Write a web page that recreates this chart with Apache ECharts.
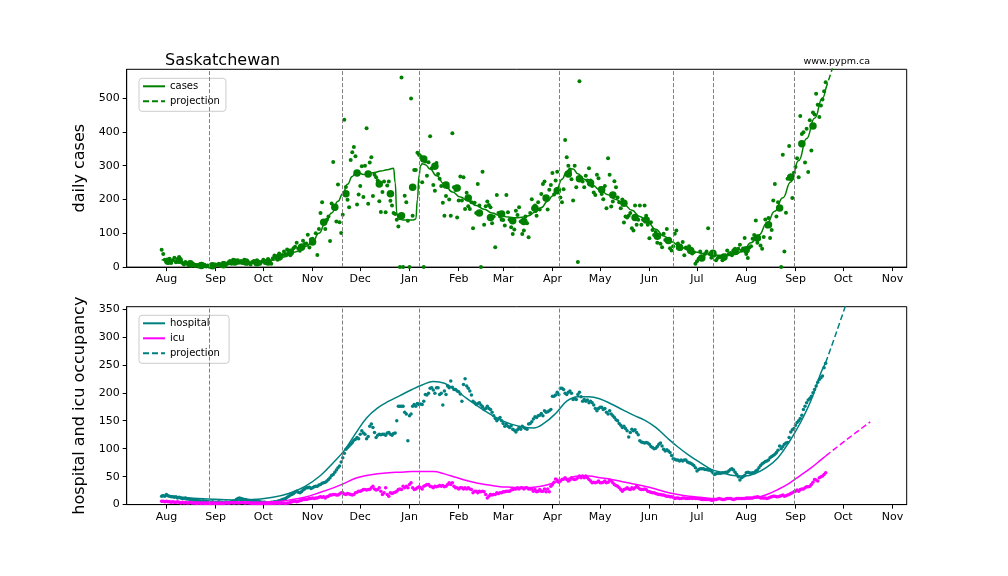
<!DOCTYPE html>
<html>
<head>
<meta charset="utf-8">
<script src="https://cdn.jsdelivr.net/npm/echarts@6/dist/echarts.min.js"></script>
<style>
  html, body { margin: 0; padding: 0; background: #fff; }
  #chart { width: 1008px; height: 576px; }
</style>
</head>
<body>
<div id="chart"></div>
<script>
// day 0 = 1 Aug 2020, every day offset below counts from it
const DAY0 = Date.UTC(2020, 7, 1);
const MONTHS = ['Jan', 'Feb', 'Mar', 'Apr', 'May', 'Jun', 'Jul', 'Aug', 'Sep', 'Oct', 'Nov', 'Dec'];

const axisFirstDay = -25;   // 7 Jul 2020
const axisLastDay = 466;    // 10 Nov 2021
const dailyStartDay = -3;   // 29 Jul 2020
const weeklyStartDay = 1;   // 2 Aug 2020, one dot every 7 days

// vertical dashed markers
const markerDays = [27, 111, 159, 247, 319, 344, 395];

// daily reported cases
const casesDaily = [
  51, 39, 22, 15, 18, 25, 12,
  20, 28, 14, 22, 30, 18, 12,
  8, 15, 10, 6, 12, 4, 9,
  3, 6, 2, 8, 5, 3, 7,
  2, 5, 1, 6, 4, 3, 8,
  6, 10, 3, 8, 12, 5, 9,
  14, 18, 10, 22, 15, 12, 20,
  14, 18, 12, 22, 16, 10, 13,
  8, 15, 18, 12, 20, 14, 10,
  16, 22, 12, 18, 24, 14, 10,
  26, 34, 28, 22, 40, 30, 36,
  46, 38, 52, 42, 35, 48, 56,
  60, 72, 55, 48, 64, 78, 68,
  70, 96, 58, 82, 84, 75, 100,
  36, 113, 160, 192, 130, 113, 140,
  150, 77, 188, 311, 172, 135, 244,
  133, 101, 155, 436, 237, 199, 177,
  317, 340, 355, 328, 185, 215, 240,
  298, 207, 300, 411, 187, 309, 325,
  210, 273, 266, 256, 195, 163, 222,
  253, 162, 241, 253, 196, 182, 160,
  157, 140, 120, 0, 561, 0, 211,
  192, 137, 0, 499, 152, 287, 287,
  338, 332, 328, 251, 0, 312, 270,
  310, 387, 292, 243, 226, 308, 275,
  261, 240, 190, 152, 210, 236, 200,
  152, 396, 236, 228, 147, 197, 268,
  197, 266, 172, 220, 180, 172, 192,
  115, 190, 160, 246, 182, 0, 282,
  125, 180, 194, 184, 177, 130, 150,
  59, 213, 160, 150, 140, 139, 123,
  213, 162, 140, 118, 98, 111, 167,
  154, 177, 135, 98, 108, 150, 130,
  88, 160, 201, 174, 182, 152, 192,
  170, 216, 246, 253, 200, 170, 229,
  243, 278, 215, 256, 282, 231, 206,
  192, 230, 376, 325, 300, 285, 260,
  197, 300, 236, 15, 550, 263, 253,
  236, 270, 256, 292, 256, 240, 221,
  213, 273, 263, 233, 216, 201, 240,
  174, 322, 273, 179, 194, 254, 236,
  206, 192, 174, 200, 132, 150, 147,
  152, 160, 115, 108, 182, 125, 140,
  182, 125, 140, 182, 152, 125, 85,
  133, 110, 95, 104, 72, 88, 69,
  59, 99, 80, 113, 74, 56, 49,
  62, 99, 108, 70, 60, 54, 74,
  35, 58, 54, 62, 49, 40, 44,
  10, 17, 25, 46, 30, 30, 39,
  46, 115, 39, 28, 32, 35, 20,
  27, 30, 30, 20, 25, 34, 49,
  39, 42, 35, 49, 54, 44, 54,
  66, 48, 55, 86, 39, 27, 58,
  62, 84, 95, 138, 72, 84, 64,
  54, 89, 141, 120, 145, 86, 110,
  197, 246, 150, 192, 172, 0, 332,
  46, 161, 261, 358, 271, 204, 279,
  296, 322, 266, 447, 394, 399, 309,
  409, 281, 434, 345, 457, 451, 513,
  480, 444, 478, 496, 520, 547
];

// weekly averages (big dots)
const casesWeekly = [
  17, 20, 10, 5, 4, 7, 15, 15, 13, 15, 30, 44, 59, 74, 133, 177, 217, 278, 275, 246,
  217, 152, 236, 320, 298, 243, 234, 204, 160, 147, 157, 137, 135, 174, 204, 226, 275, 261, 249, 229,
  213, 189, 147, 139, 91, 79, 59, 49, 27, 41, 30, 46, 51, 86, 125, 175, 266, 365, 417
];

// model fit for cases
const caseModelDays = [-3, 4, 11, 18, 25, 32, 39, 46, 53, 60, 67, 74, 81, 88, 92, 96, 100, 104, 108, 111,
  114, 117, 119, 121, 124, 127, 131, 135, 139, 143, 144, 145, 146, 150, 155, 157, 158, 159, 160, 161,
  163, 166, 170, 175, 180, 185, 190, 195, 200, 205, 210, 215, 220, 225, 228, 232, 236, 240, 243, 246,
  249, 252, 254, 256, 259, 263, 268, 273, 278, 283, 288, 293, 298, 303, 308, 313, 318, 323, 328, 333,
  338, 343, 348, 353, 358, 363, 368, 373, 378, 383, 388, 393, 398, 403, 408, 413, 415];
const caseModelVals = [22, 19, 14, 10, 7, 7, 8, 10, 12, 15, 20, 30, 45, 62, 75, 100, 130, 160, 195, 217,
  245, 268, 278, 279, 274, 276, 280, 284, 288, 292, 250, 160, 142, 139, 139, 142, 200, 270, 300, 306,
  303, 290, 270, 245, 222, 207, 196, 182, 171, 160, 152, 148, 146, 148, 152, 162, 176, 195, 210, 235,
  260, 283, 292, 290, 276, 260, 243, 228, 214, 200, 185, 168, 150, 132, 112, 92, 75, 62, 52, 45,
  40, 37, 35, 34, 38, 48, 72, 95, 130, 165, 205, 252, 315, 380, 440, 500, 527];
const caseProjDays = [415, 418, 422];
const caseProjVals = [527, 570, 630];

// hospital and icu occupancy, daily
const hospitalDaily = [
  15, 16, 15, 18, 16, 15, 14,
  14, 13, 14, 12, 13, 12, 11,
  11, 12, 10, 10, 9, 9, 8,
  8, 8, 7, 7, 6, 7, 6,
  6, 5, 5, 4, 5, 4, 4,
  4, 5, 4, 4, 3, 4, 4,
  3, 4, 5, 6, 7, 9, 11,
  12, 11, 10, 9, 9, 8, 8,
  7, 7, 6, 6, 5, 5, 5,
  4, 4, 4, 3, 3, 3, 4,
  4, 5, 5, 6, 7, 8, 9,
  10, 11, 13, 15, 17, 18, 20,
  22, 24, 22, 21, 23, 26, 28,
  30, 30, 31, 29, 30, 32, 33,
  33, 35, 36, 38, 39, 40, 42,
  45, 48, 52, 54, 58, 62, 66,
  69, 76, 84, 92, 99, 102, 105,
  108, 111, 115, 117, 120, 118, 126,
  132, 128, 126, 118, 122, 140, 144,
  138, 129, 120, 124, 126, 125, 126,
  126, 124, 128, 129, 126, 124, 127,
  128, 150, 176, 176, 176, 176, 165,
  162, 114, 159, 162, 176, 179, 176,
  181, 179, 180, 179, 185, 197, 196,
  199, 208, 209, 205, 199, 209, 209,
  197, 199, 178, 203, 197, 212, 209,
  221, 210, 206, 206, 203, 202, 198,
  185, 215, 225, 212, 208, 203, 196,
  185, 182, 179, 181, 182, 178, 175,
  170, 172, 176, 172, 170, 165, 159,
  154, 150, 153, 156, 150, 145, 140,
  144, 140, 138, 141, 135, 133, 130,
  134, 138, 135, 140, 138, 136, 135,
  144, 145, 148, 153, 157, 156, 159,
  160, 163, 159, 168, 165, 166, 168,
  170, 194, 194, 196, 201, 197, 208,
  208, 206, 199, 197, 201, 203, 199,
  188, 190, 188, 197, 201, 193, 185,
  188, 185, 187, 182, 185, 182, 178,
  172, 168, 172, 174, 174, 170, 172,
  165, 162, 168, 162, 159, 156, 152,
  150, 145, 142, 138, 140, 136, 132,
  121, 129, 135, 132, 134, 129, 125,
  114, 112, 111, 110, 111, 110, 108,
  104, 102, 100, 101, 104, 108, 110,
  105, 99, 96, 98, 96, 93, 88,
  82, 81, 80, 80, 78, 80, 78,
  80, 80, 76, 75, 74, 72, 70,
  66, 60, 63, 64, 64, 64, 63,
  63, 62, 62, 60, 57, 54, 55,
  56, 56, 56, 57, 57, 58, 58,
  60, 63, 64, 62, 58, 54, 50,
  44, 48, 50, 52, 57, 58, 57,
  56, 57, 57, 60, 62, 66, 70,
  73, 75, 77, 78, 80, 84, 86,
  88, 90, 93, 97, 105, 100, 104,
  108, 110, 111, 120, 130, 134, 136,
  142, 147, 150, 154, 160, 170, 176,
  182, 187, 190, 194, 200, 206, 212,
  219, 224, 227, 230, 245, 253
];
const icuDaily = [
  6, 6, 5, 6, 5, 5, 4,
  5, 4, 4, 5, 4, 3, 4,
  3, 4, 3, 3, 4, 3, 3,
  3, 2, 3, 3, 2, 3, 2,
  2, 3, 2, 2, 3, 2, 2,
  2, 2, 3, 2, 2, 3, 3,
  3, 3, 4, 3, 3, 4, 3,
  3, 4, 4, 3, 3, 4, 3,
  3, 2, 2, 3, 2, 2, 2,
  2, 3, 2, 2, 3, 2, 2,
  3, 2, 3, 3, 2, 3, 3,
  3, 2, 3, 3, 4, 5, 6,
  6, 5, 6, 7, 8, 9, 9,
  9, 10, 11, 11, 12, 11, 12,
  12, 13, 14, 13, 14, 12, 14,
  15, 17, 17, 18, 18, 17, 17,
  19, 21, 21, 19, 18, 20, 19,
  18, 17, 18, 21, 22, 24, 24,
  25, 27, 27, 26, 27, 27, 30,
  33, 28, 26, 27, 30, 24, 18,
  21, 30, 18, 15, 21, 20, 21,
  22, 24, 27, 28, 27, 33, 30,
  33, 30, 36, 39, 30, 27, 28,
  30, 32, 30, 28, 33, 34, 36,
  36, 33, 32, 30, 33, 32, 33,
  34, 33, 34, 32, 33, 36, 39,
  36, 39, 33, 30, 30, 28, 30,
  30, 28, 30, 28, 30, 28, 27,
  21, 24, 24, 21, 24, 23, 24,
  23, 18, 12, 15, 18, 17, 18,
  18, 21, 20, 21, 21, 23, 23,
  24, 24, 24, 26, 27, 28, 28,
  30, 28, 30, 30, 28, 30, 30,
  28, 28, 28, 24, 27, 23, 24,
  27, 24, 24, 28, 23, 28, 23,
  33, 36, 40, 46, 44, 40, 42,
  45, 46, 48, 45, 42, 44, 48,
  46, 45, 46, 48, 51, 48, 51,
  48, 51, 48, 45, 42, 39, 40,
  39, 40, 42, 39, 39, 40, 42,
  39, 40, 44, 42, 39, 36, 34,
  33, 30, 27, 24, 27, 28, 30,
  28, 27, 30, 28, 30, 33, 30,
  28, 27, 27, 28, 27, 24, 23,
  22, 21, 21, 20, 19, 18, 18,
  17, 17, 16, 15, 15, 14, 14,
  13, 11, 12, 12, 11, 11, 12,
  12, 11, 11, 11, 12, 11, 12,
  11, 11, 11, 10, 9, 9, 9,
  9, 9, 9, 8, 8, 9, 9,
  10, 11, 10, 9, 9, 10, 11,
  11, 11, 10, 9, 10, 11, 11,
  11, 11, 11, 11, 12, 12, 12,
  12, 12, 13, 13, 14, 13, 12,
  12, 12, 12, 11, 12, 13, 14,
  15, 15, 14, 14, 15, 16, 17,
  15, 16, 17, 18, 20, 21, 23,
  24, 26, 24, 27, 28, 28, 30,
  32, 32, 33, 36, 40, 45, 44,
  42, 48, 50, 51, 54, 57
];

// model fits for occupancy
const occModelDays = [-3, 7, 17, 27, 37, 47, 57, 67, 77, 87, 97, 105, 112, 119, 126, 133, 140, 147, 154, 161,
  168, 175, 182, 189, 196, 203, 210, 217, 224, 231, 238, 245, 252, 259, 266, 273, 280, 287, 294, 301,
  308, 315, 322, 329, 336, 343, 350, 357, 364, 371, 378, 385, 392, 399, 406, 412, 415];
const hospModelVals = [17, 14, 11.5, 10, 8.5, 8, 9.5, 13, 20, 32, 52, 75, 97, 127, 155, 173, 185, 195, 205, 214,
  220, 217, 205, 190, 176, 163, 152, 144, 139, 137, 146, 163, 185, 193, 193, 189, 180, 170, 160, 151,
  138, 120, 103, 88, 75, 63, 57, 52, 51, 56, 67, 84, 112, 146, 188, 236, 254];
const icuModelVals = [6, 5, 4, 4, 4, 4, 4, 5, 8, 13, 22, 30, 38, 47, 52, 55, 57, 58, 59, 59,
  59, 55, 49, 43, 38, 35, 32, 31, 30, 31, 34, 40, 46, 51, 51, 48, 45, 41, 37, 33,
  28, 22, 18, 15, 13, 11, 10, 10, 10, 12, 18, 27, 38, 52, 66, 80, 87];
const hospProjDays = [415, 421, 428];
const hospProjVals = [254, 302, 360];
const icuProjDays = [415, 429, 443];
const icuProjVals = [87, 118, 148];

// ---- helpers ----
function dayStr(d) {
  return new Date(DAY0 + d * 864e5).toISOString().slice(0, 10);
}
function seq(startDay, step, vals) {
  return vals.map((v, i) => [dayStr(startDay + i * step), v]);
}
function pairs(days, vals) {
  return days.map((d, i) => [dayStr(d), vals[i]]);
}

const categories = [];
for (let d = axisFirstDay; d <= axisLastDay; d++) categories.push(dayStr(d));

const FONT = 'DejaVu Sans';
const GREEN = '#008000', TEAL = '#008080', MAGENTA = '#ff00ff';
const isMonthStart = (idx, val) => val.slice(8) === '01';

function makeXAxis(gridIndex) {
  return {
    type: 'category', gridIndex: gridIndex, data: categories, boundaryGap: false,
    axisLine: { lineStyle: { color: '#000', width: 1 } },
    axisTick: { interval: isMonthStart, length: 4, lineStyle: { color: '#000' } },
    axisLabel: {
      interval: isMonthStart, color: '#000', fontSize: 11, fontFamily: FONT, margin: 7,
      formatter: v => MONTHS[+v.slice(5, 7) - 1]
    },
    splitLine: { show: false }
  };
}
function makeYAxis(gridIndex, max, interval, name) {
  return {
    type: 'value', gridIndex: gridIndex, min: 0, max: max, interval: interval,
    name: name, nameLocation: 'middle', nameGap: 31, nameRotate: 90,
    nameTextStyle: { color: '#000', fontSize: 16, fontFamily: FONT },
    axisLine: { show: true, lineStyle: { color: '#000', width: 1 } },
    axisTick: { show: true, length: 4, lineStyle: { color: '#000' } },
    axisLabel: { color: '#000', fontSize: 11, fontFamily: FONT, margin: 7, showMaxLabel: false },
    splitLine: { show: false }
  };
}

const markers = {
  silent: true,
  symbol: ['none', 'none'],
  label: { show: false },
  lineStyle: { color: '#7f7f7f', width: 1, type: [4, 2] },
  data: markerDays.map(d => ({ xAxis: dayStr(d) }))
};

function legendBox(top, names) {
  return {
    orient: 'vertical', left: 139, top: top,
    data: names,
    itemWidth: 22, itemHeight: 10, itemGap: 5,
    padding: [3, 6, 5, 3],
    backgroundColor: 'rgba(255,255,255,0.8)',
    borderColor: '#cccccc', borderWidth: 1, borderRadius: 3,
    itemStyle: { opacity: 0 },
    textStyle: { color: '#000', fontSize: 10, fontFamily: FONT },
    selectedMode: false
  };
}

const chart = echarts.init(document.getElementById('chart'));

const option = {
  animation: false,
  backgroundColor: '#fff',
  textStyle: { fontFamily: FONT },
  grid: [
    { left: 126.7, right: 101.3, top: 69.3, height: 197.8, show: true, borderColor: '#000', borderWidth: 1 },
    { left: 126.7, right: 101.3, top: 306.7, height: 197.9, show: true, borderColor: '#000', borderWidth: 1 }
  ],
  xAxis: [makeXAxis(0), makeXAxis(1)],
  yAxis: [makeYAxis(0, 585, 100, 'daily cases'), makeYAxis(1, 354, 50, 'hospital and icu occupancy')],
  legend: [
    legendBox(78.3, ['cases', 'projection']),
    legendBox(315.3, ['hospital', 'icu', 'projection '])
  ],
  graphic: [
    { type: 'text', left: 165, top: 53, style: { text: 'Saskatchewan', font: '16px "DejaVu Sans"', fill: '#000' } },
    { type: 'text', right: 138, top: 57, style: { text: 'www.pypm.ca', font: '9.5px "DejaVu Sans"', fill: '#000' } }
  ],
  series: [
    {
      name: 'cases daily', type: 'scatter', xAxisIndex: 0, yAxisIndex: 0,
      symbolSize: 4, itemStyle: { color: GREEN, opacity: 1 }, silent: true,
      data: seq(dailyStartDay, 1, casesDaily)
    },
    {
      name: 'cases weekly', type: 'scatter', xAxisIndex: 0, yAxisIndex: 0,
      symbolSize: 7.5, itemStyle: { color: GREEN, opacity: 1 }, silent: true,
      data: seq(weeklyStartDay, 7, casesWeekly)
    },
    {
      name: 'cases', type: 'line', xAxisIndex: 0, yAxisIndex: 0,
      showSymbol: false, symbol: 'none', smooth: 0.5, smoothMonotone: 'x',
      itemStyle: { color: GREEN }, lineStyle: { color: GREEN, width: 1.5 },
      data: pairs(caseModelDays, caseModelVals),
      markLine: markers
    },
    {
      name: 'projection', type: 'line', xAxisIndex: 0, yAxisIndex: 0,
      showSymbol: false, symbol: 'none', clip: true,
      itemStyle: { color: GREEN }, lineStyle: { color: GREEN, width: 1.5, type: [6, 3] },
      data: pairs(caseProjDays, caseProjVals)
    },
    {
      name: 'hospital daily', type: 'scatter', xAxisIndex: 1, yAxisIndex: 1,
      symbolSize: 3.5, itemStyle: { color: TEAL, opacity: 1 }, silent: true,
      data: seq(dailyStartDay, 1, hospitalDaily)
    },
    {
      name: 'icu daily', type: 'scatter', xAxisIndex: 1, yAxisIndex: 1,
      symbolSize: 3.5, itemStyle: { color: MAGENTA, opacity: 1 }, silent: true,
      data: seq(dailyStartDay, 1, icuDaily)
    },
    {
      name: 'hospital', type: 'line', xAxisIndex: 1, yAxisIndex: 1,
      showSymbol: false, symbol: 'none', smooth: 0.4,
      itemStyle: { color: TEAL }, lineStyle: { color: TEAL, width: 1.5 },
      data: pairs(occModelDays, hospModelVals),
      markLine: markers
    },
    {
      name: 'icu', type: 'line', xAxisIndex: 1, yAxisIndex: 1,
      showSymbol: false, symbol: 'none', smooth: 0.4,
      itemStyle: { color: MAGENTA }, lineStyle: { color: MAGENTA, width: 1.5 },
      data: pairs(occModelDays, icuModelVals)
    },
    {
      name: 'projection ', type: 'line', xAxisIndex: 1, yAxisIndex: 1,
      showSymbol: false, symbol: 'none', clip: true, smooth: 0.3,
      itemStyle: { color: TEAL }, lineStyle: { color: TEAL, width: 1.5, type: [6, 3] },
      data: pairs(hospProjDays, hospProjVals)
    },
    {
      name: 'icu projection', type: 'line', xAxisIndex: 1, yAxisIndex: 1,
      showSymbol: false, symbol: 'none', clip: true,
      itemStyle: { color: MAGENTA }, lineStyle: { color: MAGENTA, width: 1.5, type: [6, 3] },
      data: pairs(icuProjDays, icuProjVals)
    }
  ]
};

chart.setOption(option);
</script>
</body>
</html>
